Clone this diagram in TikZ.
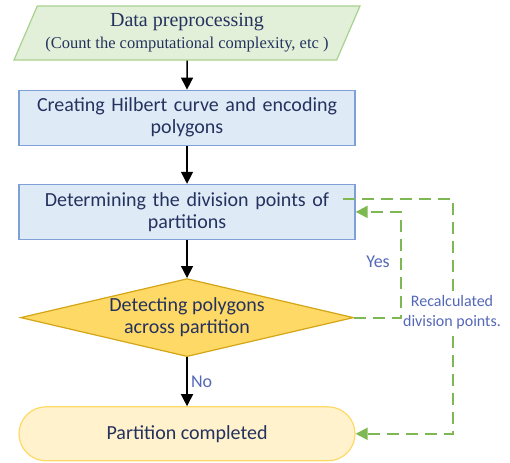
\documentclass[tikz,border=0pt]{standalone}
\usepackage{fontspec}
\setmainfont{Carlito}
\newfontfamily\serifbox{Liberation Serif}
\usetikzlibrary{shapes.geometric, arrows.meta, positioning}

\definecolor{txtblue}{HTML}{25325E}
\definecolor{lblblue}{HTML}{5468B8}
\definecolor{iofill}{HTML}{E2F0D9}
\definecolor{ioedge}{HTML}{A9D18E}
\definecolor{procfill}{HTML}{DEEBF7}
\definecolor{procedge}{HTML}{7E9FD8}
\definecolor{decfill}{HTML}{FFD966}
\definecolor{decedge}{HTML}{D4A514}
\definecolor{endfill}{HTML}{FFF2CC}
\definecolor{endedge}{HTML}{FFD966}
\definecolor{loopgreen}{HTML}{7DB852}

\begin{document}
\begin{tikzpicture}[
  node distance=30pt,
  font=\fontsize{20}{22}\selectfont,
  io/.style={trapezium, trapezium left angle=59, trapezium right angle=121, trapezium stretches body, draw=ioedge, fill=iofill, line width=1.2pt, minimum width=346pt, minimum height=54pt, align=center, text=txtblue, inner sep=0pt},
  process/.style={rectangle, draw=procedge, fill=procfill, line width=1.2pt, text width=330pt, minimum width=336pt, minimum height=55pt, align=center, text=txtblue, inner sep=0pt},
  decision/.style={diamond, aspect=4.27, draw=decedge, fill=decfill, line width=1.2pt, minimum width=333pt, minimum height=78pt, align=center, text=txtblue, inner sep=0pt},
  terminal/.style={rectangle, rounded corners=27pt, draw=endedge, fill=endfill, line width=1.2pt, minimum width=336pt, minimum height=54pt, align=center, text=txtblue},
  arrow/.style={-{Triangle[length=12pt, width=12pt]}, line width=1.5pt},
  loopback/.style={-{Triangle[length=12pt, width=12pt]}, draw=loopgreen, line width=2pt, dash pattern=on 12pt off 7pt},
  lbl/.style={text=lblblue, font=\fontsize{18}{20}\selectfont}
]

\useasboundingbox (0,0) rectangle (510pt,-462pt);

% Nodes
\node[io] (prep) at (187pt,-33pt) {\serifbox\fontsize{20}{23}\selectfont Data preprocessing \\ \serifbox\fontsize{16.5}{19}\selectfont (Count the computational complexity, etc )};
\node[process, below=29pt of prep] (hilbert) {Creating Hilbert curve and encoding \\ polygons};
\node[process, below=38pt of hilbert] (divide) {Determining the division points of \\ partitions};
\node[decision, below=38pt of divide] (detect) {Detecting polygons \\ across partition};
\node[terminal, below=49pt of detect] (done) {Partition completed};

% Labels
\node[lbl] (yes) at (378pt,-262pt) {Yes};

% Arrows
\draw[arrow] (prep) -- (hilbert);
\draw[arrow] (hilbert) -- (divide);
\draw[arrow] (divide) -- (detect);
\draw[arrow] (detect) -- (done) node[midway, right, lbl] {No};
\draw[loopback] (detect.east) -- ++(47pt,0) |- (divide.east);
\draw[loopback] ([xshift=-13pt, yshift=13pt]divide.east) -- ++(110pt,0) |- (done.east);

\node[lbl, fill=white, inner sep=1pt, align=center, font=\fontsize{16}{20}\selectfont] (recalc) at (452pt,-312pt) {Recalculated \\ division points.};

\end{tikzpicture}
\end{document}
